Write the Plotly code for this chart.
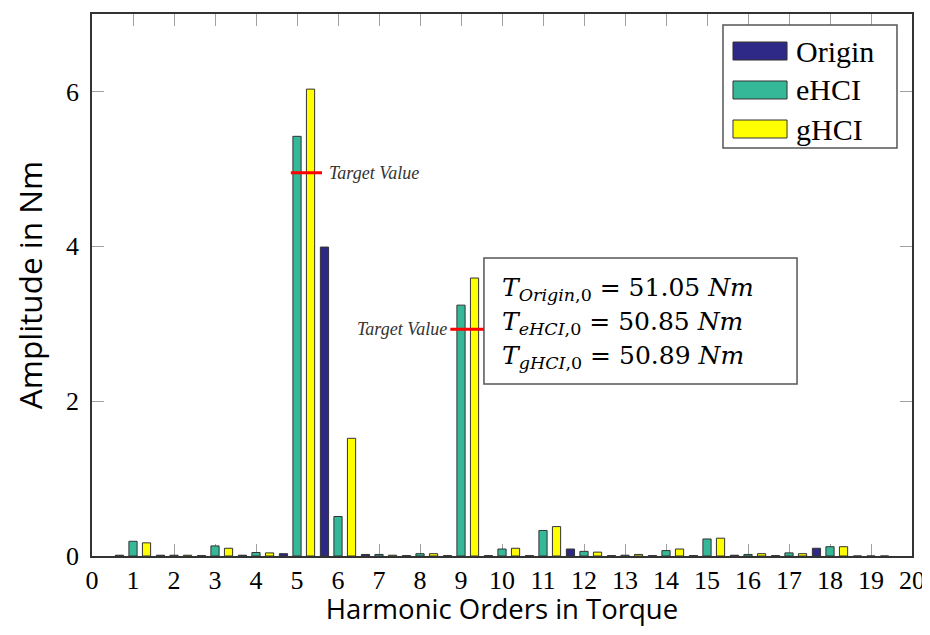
import plotly.graph_objects as go

# ---- data ----
harmonics = list(range(1, 20))
origin = [0.01, 0.01, 0.005, 0.01, 0.03, 3.99, 0.02, 0.005, 0.005, 0.005,
          0.005, 0.09, 0.005, 0.005, 0.005, 0.01, 0.005, 0.10, 0.0]
ehci = [0.19, 0.01, 0.13, 0.045, 5.42, 0.51, 0.02, 0.03, 3.24, 0.09,
        0.33, 0.06, 0.01, 0.07, 0.22, 0.02, 0.04, 0.12, 0.0]
ghci = [0.17, 0.01, 0.10, 0.04, 6.03, 1.52, 0.01, 0.03, 3.59, 0.10,
        0.38, 0.05, 0.02, 0.09, 0.23, 0.03, 0.03, 0.12, 0.0]
series_names = ["Origin", "eHCI", "gHCI"]
series_colors = ["#2e2886", "#35b898", "#ffff00"]
target_harmonics = [5, 9]
target_values = [4.95, 2.93]
box_lines = [
    "<i>T</i><sub><i>Origin</i>,0</sub> = 51.05 <i>Nm</i>",
    "<i>T</i><sub><i>eHCI</i>,0</sub> = 50.85 <i>Nm</i>",
    "<i>T</i><sub><i>gHCI</i>,0</sub> = 50.89 <i>Nm</i>",
]

BAR_W = 0.2
offsets = [-0.33 - BAR_W / 2, -BAR_W / 2, 0.33 - BAR_W / 2]

fig = go.Figure()
for name, vals, col, off in zip(series_names, [origin, ehci, ghci], series_colors, offsets):
    fig.add_trace(go.Bar(
        x=harmonics, y=vals, name=name, width=BAR_W, offset=off,
        marker=dict(color=col, line=dict(color="#333333", width=1)),
        showlegend=False,
    ))

SERIF = "Liberation Serif"
MATH = "DejaVu Serif"
shapes = []
annotations = []

# target value marks
for h, v, side in zip(target_harmonics, target_values, ["right", "left"]):
    if side == "right":
        x0, x1 = h - 0.15, h + 0.61
        annotations.append(dict(x=h + 0.72, y=v, xref="x", yref="y", text="<i>Target Value</i>",
                                showarrow=False, xanchor="left", yanchor="middle",
                                font=dict(family=SERIF, size=18, color="#333333")))
    else:
        x0, x1 = h - 0.26, h + 0.6
        annotations.append(dict(x=h - 0.3, y=v, xref="x", yref="y", text="<i>Target Value</i>",
                                showarrow=False, xanchor="right", yanchor="middle",
                                font=dict(family=SERIF, size=18, color="#333333")))
    shapes.append(dict(type="line", xref="x", yref="y", x0=x0, x1=x1, y0=v, y1=v,
                       line=dict(color="#ff0000", width=3), layer="above"))

# custom legend
shapes.append(dict(type="rect", xref="paper", yref="paper", x0=0.7695, x1=0.9817,
                   y0=0.7528, y1=0.9797, line=dict(color="#555555", width=1.5),
                   fillcolor="white", layer="above"))
leg_y = [0.9317, 0.8598, 0.7878]
for name, col, yy in zip(series_names, series_colors, leg_y):
    shapes.append(dict(type="rect", xref="paper", yref="paper", x0=0.7817, x1=0.8476,
                       y0=yy - 0.0166, y1=yy + 0.0166, fillcolor=col,
                       line=dict(color="#333333", width=1), layer="above"))
    annotations.append(dict(x=0.856, y=yy, xref="paper", yref="paper", text=name,
                            showarrow=False, xanchor="left", yanchor="middle",
                            font=dict(family=SERIF, size=30, color="black")))

# info text box
shapes.append(dict(type="rect", xref="paper", yref="paper", x0=0.478, x1=0.8598,
                   y0=0.3173, y1=0.5498, line=dict(color="#555555", width=1.5),
                   fillcolor="white", layer="above"))
for line, yy in zip(box_lines, [0.4926, 0.4299, 0.3672]):
    annotations.append(dict(x=0.4976, y=yy, xref="paper", yref="paper", text=line,
                            showarrow=False, xanchor="left", yanchor="middle",
                            font=dict(family=MATH, size=25, color="black")))

fig.update_layout(
    width=914, height=619,
    margin=dict(l=84, r=10, t=6, b=71, autoexpand=False),
    paper_bgcolor="white", plot_bgcolor="white",
    barmode="overlay",
    shapes=shapes, annotations=annotations,
    showlegend=False,
)
fig.update_xaxes(
    range=[0, 20], tickmode="linear", tick0=0, dtick=1,
    ticks="inside", ticklen=12, tickcolor="#a0a0a0", tickwidth=1,
    showline=True, linecolor="#333333", linewidth=1.5, mirror="ticks",
    showgrid=False, zeroline=False, layer="below traces",
    tickfont=dict(family=SERIF, size=26, color="black"),
    ticklabelstandoff=0, ticklabeloverflow="allow", automargin=False,
    title=dict(text="Harmonic Orders in Torque", standoff=9,
               font=dict(family="Open Sans", size=27.5, color="black")),
)
fig.update_yaxes(
    range=[0, 7], tickvals=[0, 2, 4, 6],
    ticks="inside", ticklen=12, tickcolor="#a0a0a0", tickwidth=1,
    showline=True, linecolor="#333333", linewidth=1.5, mirror="ticks",
    showgrid=False, zeroline=False, layer="below traces",
    tickfont=dict(family=SERIF, size=26, color="black"),
    ticklabelstandoff=6, automargin=False,
    title=dict(text="Amplitude in Nm", standoff=26,
               font=dict(family="Open Sans", size=31.5, color="black")),
)

fig.write_html("out.html")
